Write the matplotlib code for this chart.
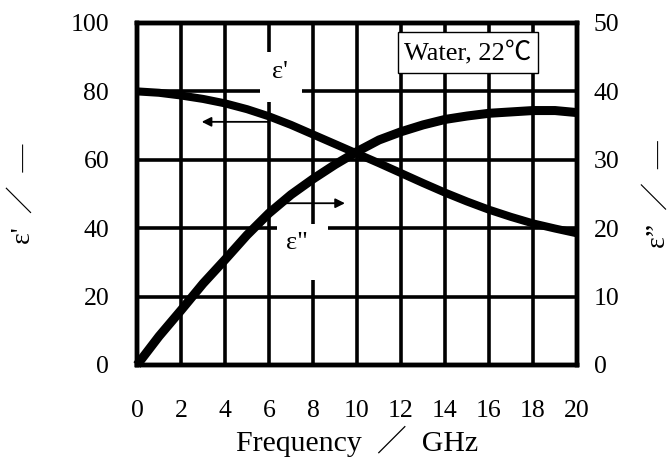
import matplotlib
matplotlib.use("Agg")
import matplotlib.pyplot as plt
from matplotlib.patches import Rectangle

plt.rcParams['font.family'] = ['Liberation Serif', 'Noto Sans CJK JP', 'DejaVu Sans']

# Data
freq_ghz = [0, 1, 2, 3, 4, 5, 6, 7, 8, 9, 10, 11, 12, 13, 14, 15, 16, 17, 18, 19, 20]
eps_real = [80.0, 79.6, 78.8, 77.8, 76.5, 74.8, 72.7, 70.2, 67.4, 64.6, 61.8,
            59.0, 56.1, 53.2, 50.4, 47.8, 45.4, 43.3, 41.4, 39.9, 38.5]
eps_imag = [0.0, 4.2, 8.0, 11.9, 15.4, 19.0, 22.2, 24.9, 27.2, 29.3, 31.2,
            32.9, 34.1, 35.1, 35.9, 36.4, 36.8, 37.0, 37.2, 37.2, 36.9]
x_ticks = [0, 2, 4, 6, 8, 10, 12, 14, 16, 18, 20]
left_ticks = [0, 20, 40, 60, 80, 100]
right_ticks = [0, 10, 20, 30, 40, 50]

fig = plt.figure(figsize=(6.72, 4.59), dpi=100)
ax = fig.add_axes([0.2039, 0.2048, 0.6548, 0.7451])
ax2 = ax.twinx()

grid_lw = 2.6
spine_lw = 3.2

ax.set_xlim(0, 20)
ax.set_ylim(0, 100)
ax2.set_ylim(0, 50)
ax.set_xticks(x_ticks)
ax.set_yticks(left_ticks)
ax2.set_yticks(right_ticks)

ax.set_axisbelow(True)
ax.grid(True, color='black', linewidth=grid_lw)

# white gaps in the grid behind the curve labels
ax.add_patch(Rectangle((5.6, 77.0), 1.9, 14.5, facecolor='white', edgecolor='none', zorder=1))
ax.add_patch(Rectangle((6.35, 24.8), 2.35, 16.3, facecolor='white', edgecolor='none', zorder=1))

ax.plot(freq_ghz, eps_real, color='black', linewidth=5.8, solid_capstyle='butt',
        solid_joinstyle='round', zorder=3, clip_on=False)
ax2.plot(freq_ghz, eps_imag, color='black', linewidth=6.5, solid_capstyle='butt',
         solid_joinstyle='round', zorder=3, clip_on=False)

for a in (ax, ax2):
    for s in a.spines.values():
        s.set_linewidth(spine_lw)
        s.set_color('black')

ax.tick_params(axis='y', length=0, pad=20, labelsize=18.5)
ax.tick_params(axis='x', length=0, pad=25, labelsize=18.5)
ax2.tick_params(axis='y', length=0, pad=12, labelsize=18.5)

# curve labels and arrows
ax.text(6.5, 85.7, "ε'", fontsize=19, ha='center', va='center', zorder=4)
ax.text(7.26, 35.6, 'ε"', fontsize=19, ha='center', va='center', zorder=4)
ax.annotate('', xy=(2.94, 71.1), xytext=(6.0, 71.1),
            arrowprops=dict(arrowstyle='-|>', color='black', lw=1.3, mutation_scale=14,
                            shrinkA=0, shrinkB=0), zorder=2)
ax.annotate('', xy=(9.45, 47.3), xytext=(6.6, 47.3),
            arrowprops=dict(arrowstyle='-|>', color='black', lw=1.3, mutation_scale=14,
                            shrinkA=0, shrinkB=0), zorder=2)

# legend-like box
ax2.add_patch(Rectangle((0.593, 0.854), 0.318, 0.120, transform=ax2.transAxes,
                        facecolor='white', edgecolor='black', linewidth=1.0, zorder=5))
ax2.text(0.752, 0.912, "Water, 22℃", transform=ax2.transAxes, fontsize=19,
         ha='center', va='center', zorder=6)

# axis labels
fig.text(23 / 672, 1 - 194 / 459, "ε'  ／  —", rotation=90, fontsize=20,
         ha='center', va='center')
fig.text(658 / 672, 1 - 194 / 459, "ε”  ／  —", rotation=90, fontsize=20,
         ha='center', va='center')
fig.text(357 / 672, 1 - 451 / 459, "Frequency  ／  GHz", fontsize=21.5,
         ha='center', va='baseline')

fig.savefig("out.png", dpi=100)
